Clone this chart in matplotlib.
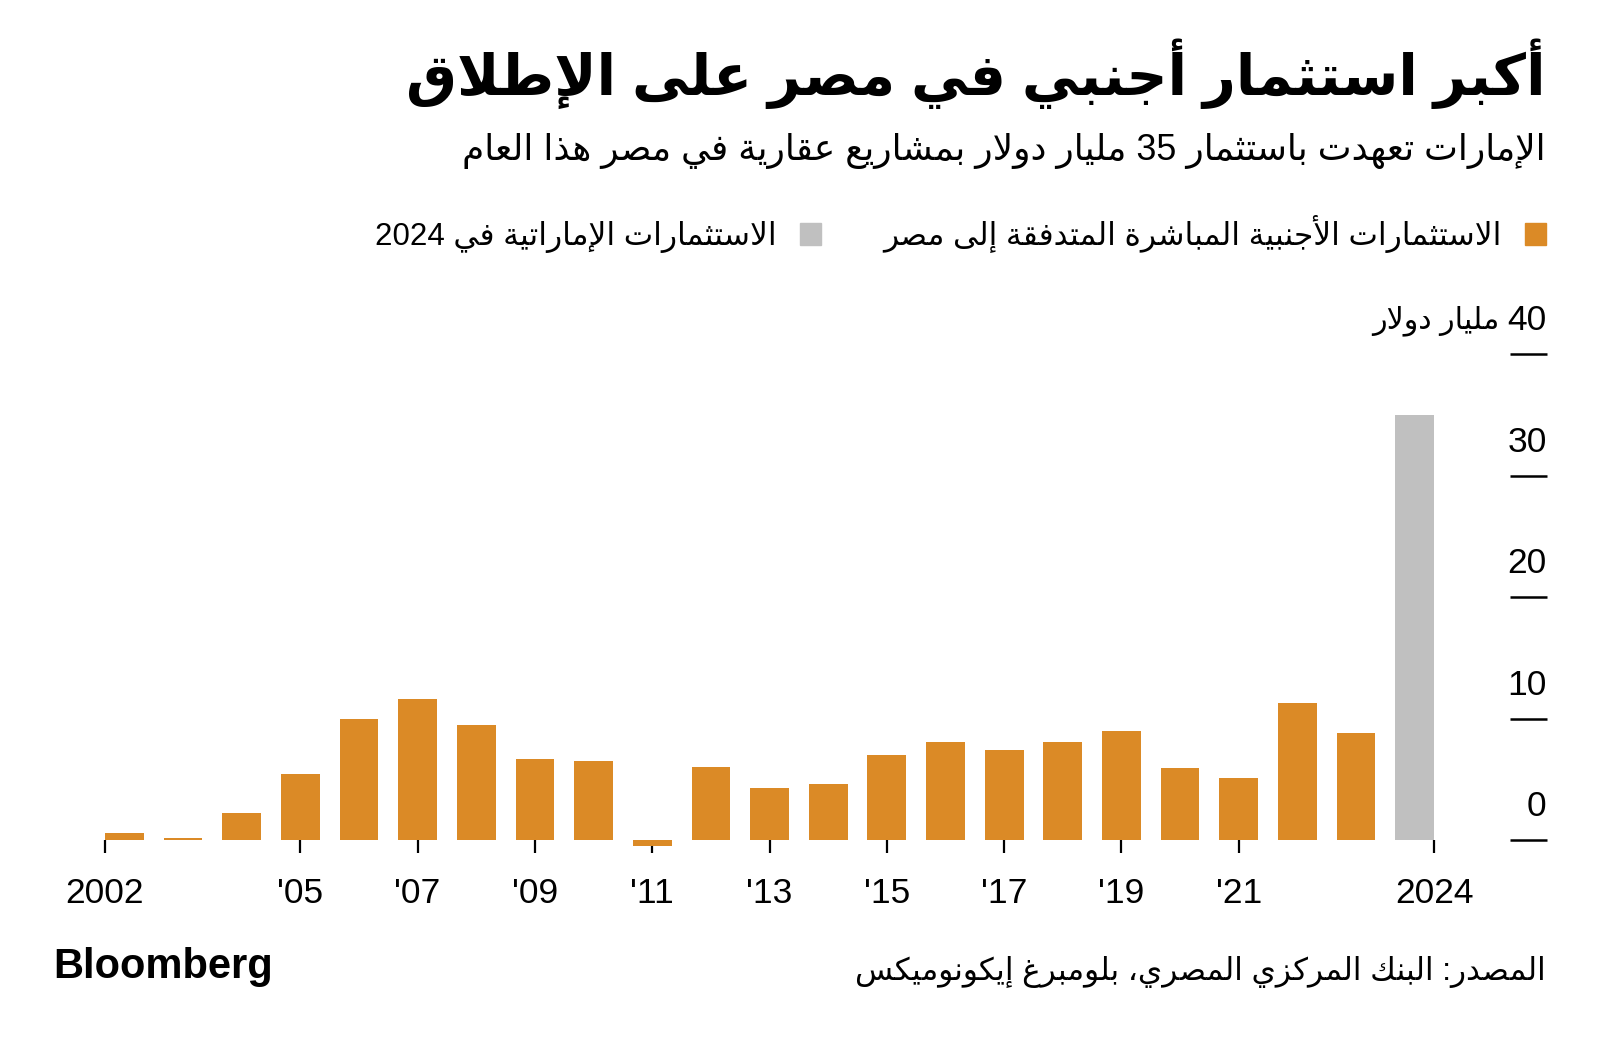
import re
import matplotlib
matplotlib.use("Agg")
import matplotlib.pyplot as plt
from matplotlib.patches import Patch

# data (billion USD)
years = list(range(2002, 2024))
fdi = [0.6, 0.2, 2.2, 5.4, 10.0, 11.6, 9.5, 6.7, 6.5, -0.5, 6.0,
       4.3, 4.6, 7.0, 8.1, 7.4, 8.1, 9.0, 5.9, 5.1, 11.3, 8.8]
uae_year = 2024
uae_value = 35.0

tick_years = [2005, 2007, 2009, 2011, 2013, 2015, 2017, 2019, 2021]
tick_labels = ["'05", "'07", "'09", "'11", "'13", "'15", "'17", "'19", "'21"]
y_ticks = [0, 10, 20, 30, 40]

title = "أكبر استثمار أجنبي في مصر على الإطلاق"
subtitle = "الإمارات تعهدت باستثمار 35 مليار دولار بمشاريع عقارية في مصر هذا العام"
leg_fdi = "الاستثمارات الأجنبية المباشرة المتدفقة إلى مصر"
leg_uae = "الاستثمارات الإماراتية في 2024"
unit = "مليار دولار"
source = "المصدر: البنك المركزي المصري، بلومبرغ إيكونوميكس"

orange = "#DB8A26"
grey = "#C0C0C0"

# --- minimal arabic shaping (matplotlib has no text shaping) ---
_letters = "ءآأؤإئابةتثجحخدذرزسشصضطظعغفقكلمنهوىي"
_counts = [1, 2, 2, 2, 2, 4, 2, 4, 2, 4, 4, 4, 4, 4, 2, 2, 2, 2, 4, 4,
           4, 4, 4, 4, 4, 4, 4, 4, 4, 4, 4, 4, 4, 2, 2, 4]
FORMS = {}
code = 0xFE80
for ch, n in zip(_letters, _counts):
    FORMS[ch] = (code, n)
    code += n
LAMALEF = {"آ": 0xFEF5, "أ": 0xFEF7, "إ": 0xFEF9, "ا": 0xFEFB}


def shape(s):
    out = []
    i = 0
    n = len(s)
    while i < n:
        c = s[i]
        if c not in FORMS:
            out.append(c)
            i += 1
            continue
        prev_j = i > 0 and s[i - 1] in FORMS and FORMS[s[i - 1]][1] == 4
        if c == "ل" and i + 1 < n and s[i + 1] in LAMALEF:
            out.append(chr(LAMALEF[s[i + 1]] + (1 if prev_j else 0)))
            i += 2
            continue
        next_j = i + 1 < n and s[i + 1] in FORMS
        start, cnt = FORMS[c]
        k = 0
        if cnt == 4:
            if prev_j and next_j:
                k = 3
            elif prev_j:
                k = 1
            elif next_j:
                k = 2
        elif cnt == 2 and prev_j:
            k = 1
        out.append(chr(start + k))
        i += 1
    return "".join(out)


def ar(s):
    s = shape(s)
    runs = re.findall(r"[0-9A-Za-z]+|[^0-9A-Za-z]+", s)
    runs = [r if re.match(r"[0-9A-Za-z]", r) else r[::-1] for r in runs]
    return "".join(runs[::-1])


fam = ["Liberation Sans", "DejaVu Sans"]
plt.rcParams["font.family"] = fam

fig = plt.figure(figsize=(16, 10.43), dpi=100)
ax = fig.add_axes([0.0656, 0.1713, 0.878, 0.4893])

w = 0.66
ax.bar(years, fdi, width=w, color=orange, zorder=2)
ax.bar([uae_year], [uae_value], width=w, color=grey, zorder=2)

ax.set_xlim(years[0] - w / 2, 2025.62)
ax.set_ylim(-2, 40)

for s in ["top", "left", "right"]:
    ax.spines[s].set_visible(False)
ax.spines["bottom"].set_position(("data", 0))
ax.spines["bottom"].set_visible(False)

xt = [years[0] - w / 2] + tick_years + [uae_year + w / 2]
xl = [str(years[0])] + tick_labels + [str(uae_year)]
ax.set_xticks(xt)
ax.set_xticklabels(xl)
ax.tick_params(axis="x", length=9.5, width=1.6, pad=17, labelsize=25.5,
               color="black")

ax.yaxis.tick_right()
ax.set_yticks(y_ticks)
ax.tick_params(axis="y", length=26.6, width=1.8, direction="out",
               labelright=False, labelleft=False)
for v in y_ticks:
    ax.annotate(str(v), xy=(1.0263, v), xycoords=("axes fraction", "data"),
                xytext=(0, 24), textcoords="offset points",
                ha="right", va="center", fontsize=25.5, family=fam)
# unit next to the top label
ax.annotate(ar(unit), xy=(1.0263, y_ticks[-1]),
            xycoords=("axes fraction", "data"),
            xytext=(-34, 24), textcoords="offset points",
            ha="right", va="center", fontsize=21.7, family=fam)

# titles
fig.text(0.966, 1 - 74 / 1043, ar(title), ha="right", va="center",
         fontsize=41, fontweight="bold", family=fam)
fig.text(0.966, 1 - 151 / 1043, ar(subtitle), ha="right", va="center",
         fontsize=25.8, family=fam)

handles = [Patch(color=grey), Patch(color=orange)]
labels = [ar(leg_uae), ar(leg_fdi)]
fig.legend(handles, labels, loc="center right",
           bbox_to_anchor=(0.9665, 1 - 234 / 1043), ncol=2, frameon=False,
           markerfirst=False, handlelength=0.67, handleheight=0.67,
           handletextpad=0.75, columnspacing=2.0, borderpad=0,
           borderaxespad=0, fontsize=22.5)

fig.text(0.033, 1 - 967 / 1043, "Bloomberg", ha="left", va="center",
         fontsize=30, fontweight="bold", family=fam)
fig.text(0.966, 1 - 972 / 1043, ar(source), ha="right", va="center",
         fontsize=22.4, family=fam)

fig.savefig("out.png", dpi=100)
